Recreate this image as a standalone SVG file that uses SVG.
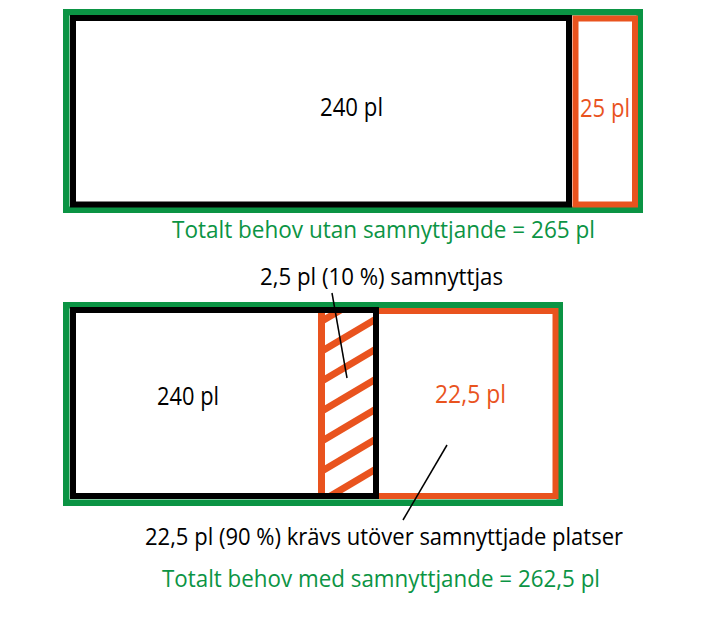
<svg xmlns="http://www.w3.org/2000/svg" width="715" height="620" viewBox="0 0 715 620">
<style>
.g{fill:none;stroke:#0b9444;stroke-width:6.5}
.k{fill:none;stroke:#000;stroke-width:6}
.o{fill:none;stroke:#e9531e;stroke-width:6}
.t{font-family:"Open Sans","Noto Sans",sans-serif;font-size:24px;text-anchor:middle}
.big{font-size:25px}
.tk{fill:#000}
.tg{fill:#0b9444}
.to{fill:#e9531e}
.ptr{stroke:#000;stroke-width:1.5;fill:none}
.h{stroke:#e9531e;stroke-width:7}
</style>
<defs>
<clipPath id="hc"><rect x="322" y="310" width="54" height="186"/></clipPath>
</defs>
<rect width="715" height="620" fill="#fff"/>
<g id="top-total">
<rect class="g" x="66.25" y="12.25" width="573.5" height="197.5"/>
</g>
<g id="top-240">
<rect class="k" x="73" y="18" width="496" height="186.5"/>
<text class="t big tk" x="351.5" y="116" textLength="63" lengthAdjust="spacingAndGlyphs">240 pl</text>
</g>
<g id="top-25">
<rect class="o" x="575.5" y="18.5" width="59.5" height="186"/>
<text class="t big to" x="605" y="117" textLength="50" lengthAdjust="spacingAndGlyphs">25 pl</text>
</g>
<g id="top-label">
<text class="t tg" x="383.5" y="238" textLength="423" lengthAdjust="spacingAndGlyphs">Totalt behov utan samnyttjande = 265 pl</text>
</g>
<g id="bottom-total">
<rect class="g" x="66.25" y="305.25" width="493.5" height="197.5"/>
</g>
<g id="bottom-225">
<rect class="o" x="376" y="311" width="179.5" height="185"/>
<text class="t big to" x="470.5" y="403" textLength="71" lengthAdjust="spacingAndGlyphs">22,5 pl</text>
</g>
<g id="bottom-hatch">
<g clip-path="url(#hc)">
<line class="h" x1="322" y1="321" x2="376" y2="289"/>
<line class="h" x1="322" y1="351" x2="376" y2="319"/>
<line class="h" x1="322" y1="381" x2="376" y2="349"/>
<line class="h" x1="322" y1="411" x2="376" y2="379"/>
<line class="h" x1="322" y1="441" x2="376" y2="409"/>
<line class="h" x1="322" y1="471" x2="376" y2="439"/>
<line class="h" x1="322" y1="501" x2="376" y2="469"/>
</g>
<line class="h" x1="321.5" y1="310" x2="321.5" y2="496"/>
</g>
<g id="bottom-240">
<rect class="k" x="73" y="310" width="303" height="186"/>
<text class="t big tk" x="188" y="405" textLength="62" lengthAdjust="spacingAndGlyphs">240 pl</text>
</g>
<g id="connectors">
<line class="ptr" x1="332" y1="293" x2="347" y2="378"/>
<line class="ptr" x1="447" y1="445" x2="403" y2="520"/>
</g>
<g id="labels">
<text class="t tk" x="381.5" y="285" textLength="243" lengthAdjust="spacingAndGlyphs">2,5 pl (10 %) samnyttjas</text>
<text class="t tk" x="384" y="545" textLength="478" lengthAdjust="spacingAndGlyphs">22,5 pl (90 %) krävs utöver samnyttjade platser</text>
<text class="t tg" x="381" y="587" textLength="438" lengthAdjust="spacingAndGlyphs">Totalt behov med samnyttjande = 262,5 pl</text>
</g>
</svg>
